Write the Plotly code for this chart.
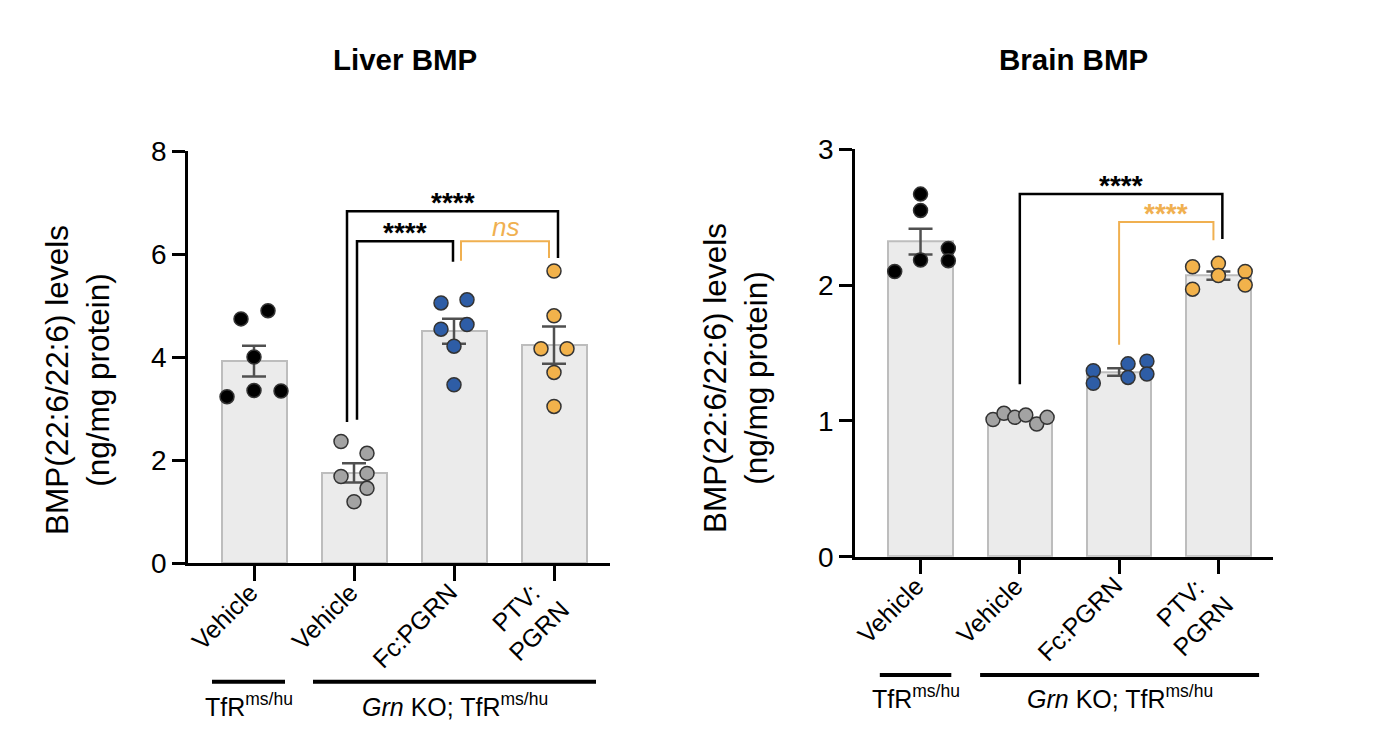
import plotly.graph_objects as go

# ---------------- data ----------------
groups = ["Vehicle", "Vehicle", "Fc:PGRN", "PTV:<br>PGRN"]
point_colors = ["#000000", "#A3A3A3", "#2E5DA6", "#F2B24B"]

# Liver BMP (ng/mg protein)
liver_mean = [3.92, 1.75, 4.50, 4.23]
liver_sem = [0.30, 0.185, 0.245, 0.36]
liver_points = [
    [4.74, 4.90, 4.00, 3.23, 3.35, 3.34],
    [2.36, 2.13, 1.68, 1.74, 1.45, 1.19],
    [5.05, 5.11, 4.54, 4.63, 4.21, 3.46],
    [5.67, 4.80, 4.16, 4.16, 3.70, 3.04],
]
liver_jitter = [
    [-0.13, 0.14, 0.0, -0.27, 0.0, 0.27],
    [-0.13, 0.13, -0.13, 0.13, 0.13, 0.0],
    [-0.13, 0.13, -0.13, 0.13, 0.0, 0.0],
    [0.0, 0.0, -0.13, 0.13, 0.0, 0.0],
]

# Brain BMP (ng/mg protein)
brain_mean = [2.32, 1.02, 1.36, 2.07]
brain_sem = [0.095, 0.012, 0.028, 0.03]
brain_points = [
    [2.67, 2.55, 2.27, 2.18, 2.185, 2.10],
    [1.01, 1.056, 1.026, 1.043, 0.977, 1.026],
    [1.37, 1.277, 1.42, 1.32, 1.44, 1.345],
    [2.135, 1.97, 2.16, 2.07, 2.10, 2.00],
]
brain_jitter = [
    [0.0, 0.0, 0.28, 0.28, 0.0, -0.26],
    [-0.27, -0.16, -0.05, 0.06, 0.17, 0.275],
    [-0.26, -0.26, 0.09, 0.09, 0.28, 0.28],
    [-0.26, -0.26, 0.0, 0.0, 0.27, 0.27],
]

# significance brackets: (x_left, x_right, y_left_end, y_top, y_right_end, label, color, italic)
BLACK = "#000000"
ORANGE = "#F0B050"
liver_brackets = [
    (0.93, 3.04, 2.74, 6.83, 5.92, "****", BLACK, False),
    (1.03, 1.99, 2.78, 6.25, 5.85, "****", BLACK, False),
    (2.07, 2.95, 5.87, 6.25, 5.92, "ns", ORANGE, True),
]
brain_brackets = [
    (1.00, 3.04, 1.27, 2.67, 2.34, "****", BLACK, False),
    (2.00, 2.95, 1.56, 2.465, 2.33, "****", ORANGE, False),
]

# rotated category label placement (pixel shifts of label centre from tick, label centre height)
label_xshift = [-30, -30, -40, -27]
liver_label_ypx = [616.5, 616.5, 625.5, 619]
brain_label_ypx = [610, 610, 618.5, 614]

FONT = "Liberation Sans, Arial, Helvetica, sans-serif"
PAGE_OFF = 8            # browser body margin
W, H = 1376 - 2 * PAGE_OFF, 752 - 2 * PAGE_OFF


def px(xpix):
    return (xpix - PAGE_OFF) / W


def py(ypix):
    return 1 - (ypix - PAGE_OFF) / H


fig = go.Figure()

panels = [
    dict(x="x", y="y", mean=liver_mean, sem=liver_sem, pts=liver_points, jit=liver_jitter,
         br=liver_brackets, lab_y=liver_label_ypx),
    dict(x="x2", y="y2", mean=brain_mean, sem=brain_sem, pts=brain_points, jit=brain_jitter,
         br=brain_brackets, lab_y=brain_label_ypx),
]

cats = list(range(len(groups)))
for p in panels:
    fig.add_trace(go.Bar(
        x=cats, y=p["mean"], width=0.65, xaxis=p["x"], yaxis=p["y"],
        marker=dict(color="#EBEBEB", line=dict(color="#BDBDBD", width=2)),
        showlegend=False, hoverinfo="skip"))
    fig.add_trace(go.Scatter(
        x=cats, y=p["mean"], mode="markers", xaxis=p["x"], yaxis=p["y"],
        marker=dict(size=1, color="rgba(0,0,0,0)"),
        error_y=dict(type="data", array=p["sem"], color="#505050", thickness=2.5, width=12),
        showlegend=False, hoverinfo="skip"))
    for i, vals in enumerate(p["pts"]):
        fig.add_trace(go.Scatter(
            x=[i + j for j in p["jit"][i]], y=vals, mode="markers",
            xaxis=p["x"], yaxis=p["y"],
            marker=dict(size=14, color=point_colors[i], line=dict(color="#333333", width=1.5)),
            showlegend=False, hoverinfo="skip"))
    for (x1, x2, yl, yt, yr_, lab, col, ital) in p["br"]:
        fig.add_shape(type="path", xref=p["x"], yref=p["y"],
                      path=f"M {x1},{yl} L {x1},{yt} L {x2},{yt} L {x2},{yr_}",
                      line=dict(color=col, width=2.5 if col == BLACK else 2))
        txt = f"<i>{lab}</i>" if ital else f"<b>{lab}</b>"
        fig.add_annotation(x=(x1 + x2) / 2, y=yt, xref=p["x"], yref=p["y"],
                           text=txt, showarrow=False, yanchor="bottom",
                           yshift=(-3 if ital else -9),
                           font=dict(family=FONT, size=26 if ital else 28, color=col))
    # rotated category labels
    for i, lab in enumerate(groups):
        fig.add_annotation(x=i, y=py(p["lab_y"][i]), xref=p["x"], yref="paper",
                           xshift=label_xshift[i], text=lab, textangle=-45, showarrow=False,
                           xanchor="center", yanchor="middle", align="center",
                           font=dict(family=FONT, size=25, color="black"))

axis_common = dict(showline=True, linecolor="black", linewidth=2.5, ticks="outside",
                   tickwidth=2.5, tickcolor="black", showgrid=False, zeroline=False,
                   automargin=False)

fig.update_layout(
    width=W, height=H, margin=dict(l=0, r=0, t=0, b=0, pad=0),
    paper_bgcolor="white", plot_bgcolor="white",
    xaxis=dict(domain=[px(188), px(610)], range=[-0.66, 3.56], tickvals=cats,
               showticklabels=False, ticklen=15, anchor="y", **axis_common),
    yaxis=dict(domain=[py(563), py(151)], range=[0, 8], dtick=2, ticklen=13,
               anchor="x", tickfont=dict(family=FONT, size=28, color="black"), **axis_common),
    xaxis2=dict(domain=[px(855), px(1273)], range=[-0.66, 3.55], tickvals=cats,
                showticklabels=False, ticklen=15, anchor="y2", **axis_common),
    yaxis2=dict(domain=[py(556.7), py(149.3)], range=[0, 3], dtick=1, ticklen=13,
                anchor="x2", tickfont=dict(family=FONT, size=28, color="black"), **axis_common),
    bargap=0,
)

# titles
for txt, xpix in [("<b>Liver BMP</b>", 405), ("<b>Brain BMP</b>", 1073)]:
    fig.add_annotation(x=px(xpix), y=py(60), xref="paper", yref="paper", text=txt,
                       showarrow=False, xanchor="center", yanchor="middle",
                       font=dict(family=FONT, size=29.5, color="black"))

# y-axis titles
ytitle = "BMP(22:6/22:6) levels<br>(ng/mg protein)"
for xpix, ypix in [(77, 380), (736, 378)]:
    fig.add_annotation(x=px(xpix), y=py(ypix), xref="paper", yref="paper", text=ytitle,
                       textangle=-90, showarrow=False, xanchor="center", yanchor="middle",
                       font=dict(family=FONT, size=31.5, color="black"))

# group lines and labels
group_defs = [
    ("x", py(681.7), py(705), [(-0.42, 0.31), (0.59, 3.42)]),
    ("x2", py(675), py(697), [(-0.41, 0.31), (0.60, 3.41)]),
]
group_labels = ["TfR<sup>ms/hu</sup>", "<i>Grn</i> KO; TfR<sup>ms/hu</sup>"]
for xr, yl, yt, segs in group_defs:
    for (a, b), lab in zip(segs, group_labels):
        fig.add_shape(type="line", xref=xr, yref="paper", x0=a, x1=b, y0=yl, y1=yl,
                      line=dict(color="black", width=4))
        fig.add_annotation(x=(a + b) / 2, y=yt, xref=xr, yref="paper", text=lab,
                           showarrow=False, xanchor="center", yanchor="middle",
                           font=dict(family=FONT, size=25, color="black"))

fig.write_html("out.html")
